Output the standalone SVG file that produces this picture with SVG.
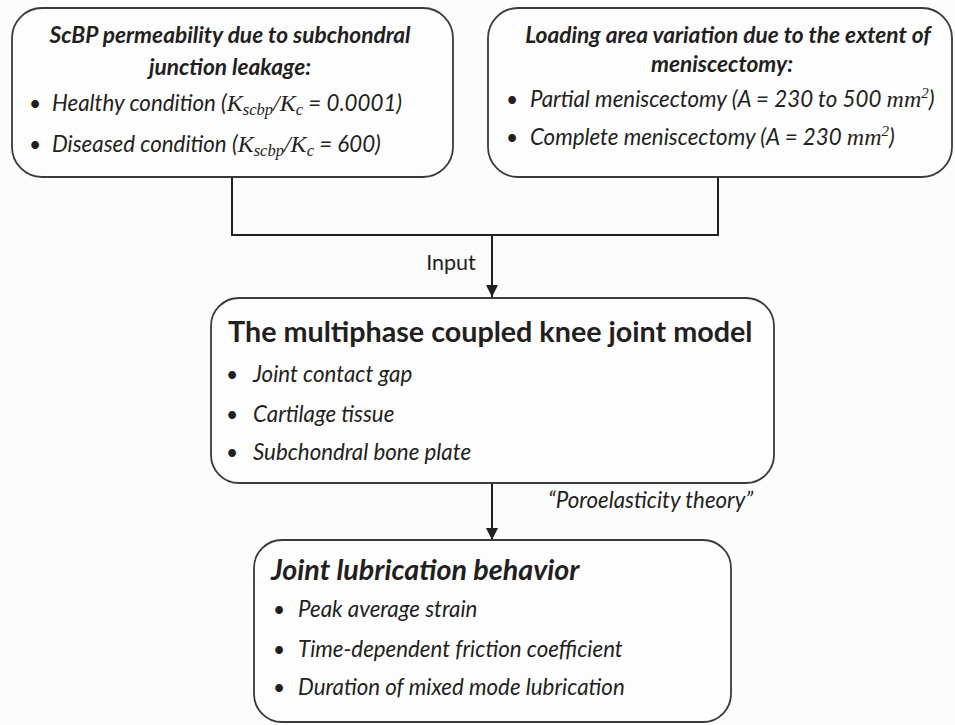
<svg xmlns="http://www.w3.org/2000/svg" width="955" height="725" viewBox="0 0 955 725">
  <defs>
    <marker id="arrow" viewBox="0 0 12 12" refX="12" refY="6" markerWidth="12" markerHeight="12" markerUnits="userSpaceOnUse" orient="auto">
      <path d="M0,0 L12,6 L0,12 Z" fill="#231f20"/>
    </marker>
    <style>
      .box { fill: #fdfdfe; stroke: #3a3a3a; stroke-width: 1.8; }
      .conn { fill: none; stroke: #231f20; stroke-width: 2; }
      text { font-family: Lato, "Liberation Sans", sans-serif; fill: #231f20; }
      .h { font-weight: bold; font-style: italic; font-size: 22.7px; }
      .it { font-style: italic; font-size: 22.3px; }
      .b { font-size: 21px; }
      .m { font-family: "Liberation Serif", "DejaVu Serif", serif; font-style: italic; font-size: 24px; }
      .s { font-family: "Liberation Serif", "DejaVu Serif", serif; font-style: italic; font-size: 16.5px; }
      .sup { font-family: "Liberation Serif", "DejaVu Serif", serif; font-size: 15px; }
      .title { font-weight: bold; font-size: 28.7px; }
      .lbl { font-size: 21.5px; }
    </style>
  </defs>
  <rect width="955" height="725" fill="#fcfcfd"/>

  <g id="connectors">
    <path class="conn" d="M232 177 V235 H718 V177"/>
    <path class="conn" d="M492 235 V297" marker-end="url(#arrow)"/>
    <path class="conn" d="M492 483 V540" marker-end="url(#arrow)"/>
    <text class="lbl" x="451" y="270" text-anchor="middle">Input</text>
    <text class="it" x="548" y="508">“Poroelasticity theory”</text>
  </g>

  <g id="node-scbp">
    <rect class="box" x="12" y="8" width="441" height="169" rx="30"/>
    <text class="h" x="230" y="43" text-anchor="middle">ScBP permeability due to subchondral</text>
    <text class="h" x="230" y="75" text-anchor="middle">junction leakage:</text>
    <text class="b" x="29" y="111">•</text>
    <text class="it" x="52" y="111">Healthy condition (<tspan class="m">K</tspan><tspan class="s" dy="4">scbp</tspan><tspan class="m" dy="-4">/K</tspan><tspan class="s" dy="4">c</tspan><tspan dy="-4"> = 0.0001)</tspan></text>
    <text class="b" x="29" y="152">•</text>
    <text class="it" x="52" y="152">Diseased condition (<tspan class="m">K</tspan><tspan class="s" dy="4">scbp</tspan><tspan class="m" dy="-4">/K</tspan><tspan class="s" dy="4">c</tspan><tspan dy="-4"> = 600)</tspan></text>
  </g>

  <g id="node-loading">
    <rect class="box" x="488" y="8" width="464" height="169" rx="30"/>
    <text class="h" x="728" y="43" text-anchor="middle">Loading area variation due to the extent of</text>
    <text class="h" x="722" y="72" text-anchor="middle">meniscectomy:</text>
    <text class="b" x="506" y="107">•</text>
    <text class="it" x="530" y="107">Partial meniscectomy (A = 230 to 500 <tspan class="m">mm</tspan><tspan class="sup" dy="-9">2</tspan><tspan dy="9">)</tspan></text>
    <text class="b" x="506" y="145">•</text>
    <text class="it" x="530" y="145">Complete meniscectomy (A = 230 <tspan class="m">mm</tspan><tspan class="sup" dy="-9">2</tspan><tspan dy="9">)</tspan></text>
  </g>

  <g id="node-model">
    <rect class="box" x="211" y="298" width="563" height="185" rx="28"/>
    <text class="title" x="228" y="342">The multiphase coupled knee joint model</text>
    <text class="b" x="226" y="382">•</text>
    <text class="it" x="253" y="382">Joint contact gap</text>
    <text class="b" x="226" y="422">•</text>
    <text class="it" x="253" y="422">Cartilage tissue</text>
    <text class="b" x="226" y="460">•</text>
    <text class="it" x="253" y="460">Subchondral bone plate</text>
  </g>

  <g id="node-lubrication">
    <rect class="box" x="254" y="540" width="477" height="182" rx="28"/>
    <text class="title" x="271" y="580" font-style="italic" font-size="24px">Joint lubrication behavior</text>
    <text class="b" x="273" y="617">•</text>
    <text class="it" x="298" y="617">Peak average strain</text>
    <text class="b" x="273" y="657">•</text>
    <text class="it" x="298" y="657">Time-dependent friction coefficient</text>
    <text class="b" x="273" y="695">•</text>
    <text class="it" x="298" y="695">Duration of mixed mode lubrication</text>
  </g>
</svg>
